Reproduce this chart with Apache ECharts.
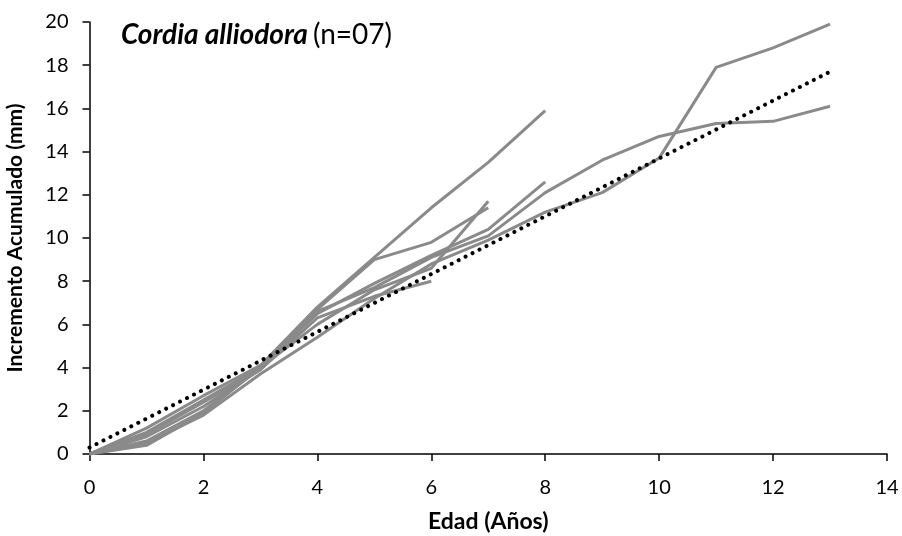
<!DOCTYPE html>
<html>
<head>
<meta charset="utf-8">
<script src="https://cdn.jsdelivr.net/npm/echarts@6/dist/echarts.min.js"></script>
<style>
html, body { margin: 0; padding: 0; background: #fff; }
#chart { width: 902px; height: 536px; }
</style>
</head>
<body>
<div id="chart"></div>
<script>
// edad (años) y incremento acumulado (mm) de cada árbol
var ages = [0, 1, 2, 3, 4, 5, 6, 7, 8, 9, 10, 11, 12, 13];
var tree1 = [0, 1.2, 2.7, 4.1, 6.8, 9.1, 11.4, 13.5, 15.9];
var tree2 = [0, 1.0, 2.5, 4.0, 6.7, 9.0, 9.8, 11.4];
var tree3 = [0, 0.8, 2.2, 3.9, 6.3, 7.3, 8.0];
var tree4 = [0, 0.6, 2.0, 4.0, 6.5, 7.9, 9.2, 10.4, 12.6];
var tree5 = [0, 0.4, 1.9, 4.0, 6.0, 7.6, 8.6, 11.7];
var tree6 = [0, 0.5, 1.8, 3.7, 5.4, 7.2, 8.8, 9.9, 11.2, 12.1, 13.7, 17.9, 18.8, 19.9];
var tree7 = [0, 0.9, 2.4, 3.9, 6.6, 7.7, 9.1, 10.1, 12.1, 13.6, 14.7, 15.3, 15.4, 16.1];
var trees = [tree1, tree2, tree3, tree4, tree5, tree6, tree7];
// tendencia lineal (extremos)
var trendX = [0, 13];
var trendY = [0.3, 17.7];

var font = 'Lato';

function pairs(xs, ys) {
	var out = [];
	for (var i = 0; i < ys.length; i++) out.push([xs[i], ys[i]]);
	return out;
}

var series = trees.map(function (t) {
	return {
		type: 'line',
		data: pairs(ages, t),
		showSymbol: false,
		symbol: 'none',
		silent: true,
		lineStyle: { color: '#8a8a8a', width: 3 }
	};
});
series.push({
	type: 'line',
	data: pairs(trendX, trendY),
	symbol: 'none',
	silent: true,
	lineStyle: { color: '#000', width: 4, type: [0.01, 7.8], cap: 'round' }
});

var myChart = echarts.init(document.getElementById('chart'));
var option = {
	animation: false,
	title: {
		text: '{b|Cordia alliodora} {n|(n=07)}',
		left: 116,
		top: 16,
		textStyle: {
			rich: {
				b: { fontFamily: font, fontSize: 28, fontWeight: 'bold', fontStyle: 'italic', color: '#000' },
				n: { fontFamily: font, fontSize: 28, fontWeight: 'normal', color: '#000' }
			}
		}
	},
	grid: {
		left: 89.5,
		right: 15,
		top: 22,
		bottom: 82,
		containLabel: false,
		outerBoundsMode: 'none'
	},
	xAxis: {
		type: 'value',
		min: 0,
		max: 14,
		interval: 2,
		name: 'Edad (Años)',
		nameLocation: 'middle',
		nameGap: 56,
		nameTextStyle: { fontFamily: font, fontSize: 23, fontWeight: 'bold', color: '#000' },
		splitLine: { show: false },
		axisLine: { lineStyle: { color: '#000', width: 1.5 } },
		axisTick: { show: true, length: 7, lineStyle: { color: '#000', width: 1.5 } },
		axisLabel: { fontFamily: font, fontSize: 20, color: '#000', margin: 24 }
	},
	yAxis: {
		type: 'value',
		min: 0,
		max: 20,
		interval: 2,
		name: 'Incremento Acumulado (mm)',
		nameLocation: 'middle',
		nameGap: 64,
		nameTextStyle: { fontFamily: font, fontSize: 21, fontWeight: 'bold', color: '#000' },
		splitLine: { show: false },
		axisLine: { show: true, lineStyle: { color: '#000', width: 1.5 } },
		axisTick: { show: true, length: 7, lineStyle: { color: '#000', width: 1.5 } },
		axisLabel: { fontFamily: font, fontSize: 20, color: '#000', margin: 21 }
	},
	series: series
};
option && myChart.setOption(option);
</script>
</body>
</html>
